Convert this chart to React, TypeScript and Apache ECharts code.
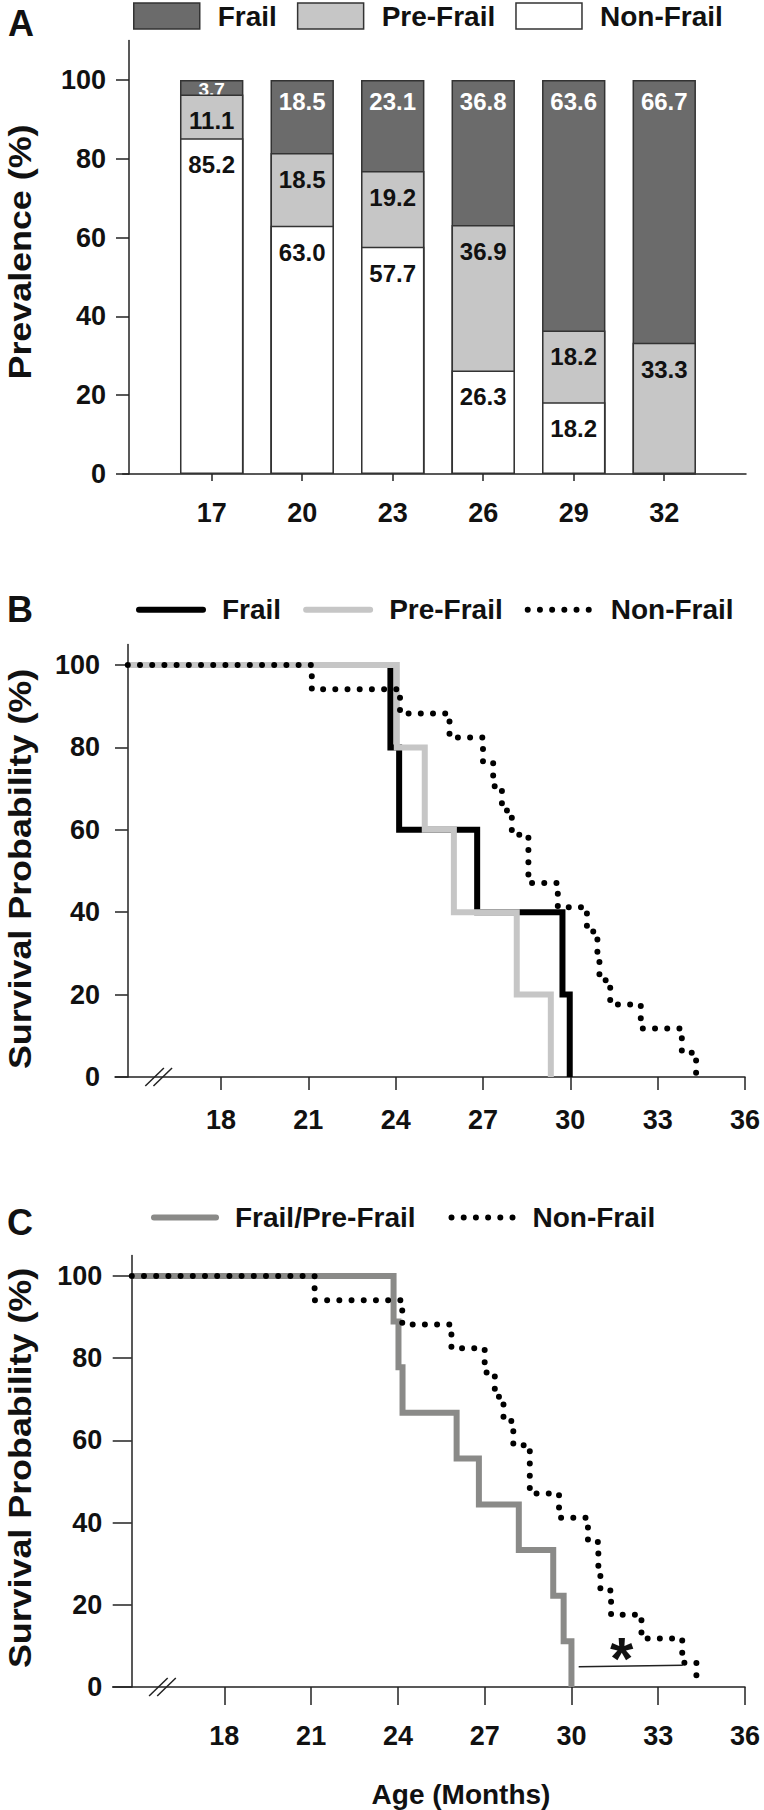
import React, { useEffect, useRef } from "react";
import * as echarts from "echarts";

const FONT = '"Liberation Sans", Arial, Helvetica, sans-serif';
const INK = "#111111";

// ---------- Panel A: prevalence of frailty by age ----------
const ageGroups = [17, 20, 23, 26, 29, 32];
const nonFrailPrev = [85.2, 63.0, 57.7, 26.3, 18.2, 0];
const preFrailPrev = [11.1, 18.5, 19.2, 36.9, 18.2, 33.3];
const frailPrev = [3.7, 18.5, 23.1, 36.8, 63.6, 66.7];
const prevalenceTicks = [0, 20, 40, 60, 80, 100];

// ---------- Panel B: survival by group ----------
const frailAge = [14.8, 23.82, 24.12, 26.8, 29.73, 29.98];
const frailSurv = [100, 80, 60, 40, 20, 0];
const preFrailAge = [14.8, 24.04, 25.0, 26.0, 28.16, 29.33];
const preFrailSurv = [100, 80, 60, 40, 20, 0];
const nonFrailAge = [14.8, 21.12, 24.15, 25.85, 27.0, 27.35, 27.65, 27.99, 28.56, 29.57, 30.57, 30.93, 31.0, 31.37, 32.42, 33.83, 34.32];
const nonFrailSurv = [100, 94.1, 88.2, 82.4, 76.5, 70.6, 64.7, 58.8, 47.1, 41.2, 35.3, 29.4, 23.5, 17.6, 11.8, 5.9, 0];

// ---------- Panel C: combined frail / pre-frail ----------
const combinedAge = [14.8, 23.85, 24.02, 24.16, 26.03, 26.8, 28.18, 29.37, 29.73, 30.0];
const combinedSurv = [100, 88.9, 77.8, 66.7, 55.6, 44.4, 33.3, 22.2, 11.1, 0];

const ageTicks = [18, 21, 24, 27, 30, 33, 36];
const survivalTicks = [0, 20, 40, 60, 80, 100];
const axisBreakAges = [15.72, 16.0];
const sigBracket = [
  [30.25, 4.9],
  [33.85, 5.3],
];
const sigStar = [31.74, 8.2];

const stripPrefix = (n: string) => n.replace(/^[ABC]-/, "");

const tickText = { color: INK, fontFamily: FONT, fontWeight: "bold", fontSize: 27 };
const axisLine = { show: true, onZero: false, lineStyle: { color: "#222", width: 1.5 } };
const tickLine = { color: "#222", width: 1.5 };

function xAxisDef(grid: number, min: number, max: number, ticks: number[], len: number, margin: number) {
  return {
    gridIndex: grid,
    type: "value",
    min,
    max,
    axisLine,
    splitLine: { show: false },
    axisTick: { show: true, customValues: ticks, length: len, lineStyle: tickLine },
    axisLabel: { ...tickText, customValues: ticks, margin, formatter: (v: number) => String(v) },
  };
}

function yAxisDef(grid: number, max: number, offset: number, len: number, margin: number, ticks: number[]) {
  return {
    gridIndex: grid,
    type: "value",
    min: 0,
    max,
    offset,
    axisLine,
    splitLine: { show: false },
    axisTick: { show: true, customValues: ticks, length: len, lineStyle: tickLine },
    axisLabel: { ...tickText, customValues: ticks, margin, formatter: (v: number) => String(v) },
  };
}

// Stacked bars drawn as overlapping cumulative bars (tallest behind).
function barSeries(name: string, segment: number[], below: number[][], fill: string, labelColor: string, dist: number, z: number) {
  return {
    name,
    type: "bar",
    xAxisIndex: 0,
    yAxisIndex: 0,
    barWidth: 63.4,
    barGap: "-100%",
    z,
    emphasis: { disabled: true },
    itemStyle: { color: fill, borderColor: "#333", borderWidth: 1.5 },
    label: {
      show: true,
      position: "insideTop",
      distance: dist,
      color: labelColor,
      fontFamily: FONT,
      fontWeight: "bold",
      fontSize: 24,
      textBorderWidth: 0,
      formatter: (p: any) => segment[p.dataIndex].toFixed(1),
    },
    data: ageGroups.map((a, i) => {
      const v = segment[i];
      const top = below.reduce((s, arr) => s + arr[i], 0) + v;
      const item: any = { value: [a, top] };
      if (v === 0) item.label = { show: false };
      else if (v < 5) item.label = { fontSize: 19, distance: 0 };
      return item;
    }),
  };
}

function kmSeries(name: string, grid: number, ages: number[], surv: number[], lineStyle: any, z: number, extra: any = {}) {
  return {
    name,
    type: "line",
    xAxisIndex: grid,
    yAxisIndex: grid,
    step: "end",
    symbol: "none",
    showSymbol: false,
    clip: false,
    z,
    emphasis: { disabled: true },
    itemStyle: { color: lineStyle.color },
    lineStyle,
    data: ages.map((a, i) => [a, surv[i]]),
    ...extra,
  };
}

const solid = (color: string) => ({ color, width: 6, join: "miter", cap: "butt" });
const dotted = { color: "#000", width: 6, type: [0, 12.2], cap: "round" };

function legendText(pad: number) {
  return { color: INK, fontFamily: FONT, fontWeight: "bold", fontSize: 28, padding: [0, 0, 0, pad] };
}

function buildOption() {
  return {
    animation: false,
    backgroundColor: "#ffffff",
    grid: [
      { left: 122.7, top: 40.6, width: 623.3, height: 433.4, outerBoundsMode: "none" },
      { left: 115, top: 644.4, width: 630, height: 432.6, outerBoundsMode: "none" },
      { left: 112.7, top: 1255.4, width: 632.3, height: 431.6, outerBoundsMode: "none" },
    ],
    xAxis: [
      xAxisDef(0, 14.05, 34.71, ageGroups, 7, 25.2),
      xAxisDef(1, 14.36, 36, ageTicks, 13, 29.5),
      xAxisDef(2, 14.14, 36, ageTicks, 18, 35.5),
    ],
    yAxis: [
      yAxisDef(0, 110, -6.3, 13, 23, prevalenceTicks),
      yAxisDef(1, 105, -12.7, 12.7, 27.7, survivalTicks),
      yAxisDef(2, 105, -19, 19, 29.3, survivalTicks),
    ],
    legend: [
      {
        left: 133,
        top: 2,
        padding: 0,
        orient: "horizontal",
        selectedMode: false,
        icon: "rect",
        itemWidth: 66,
        itemHeight: 26,
        itemGap: 20,
        itemStyle: { borderColor: "#333", borderWidth: 1.5 },
        textStyle: legendText(13),
        formatter: stripPrefix,
        data: ["A-Frail", "A-Pre-Frail", "A-Non-Frail"],
      },
      {
        left: 136,
        top: 595.7,
        padding: 0,
        orient: "horizontal",
        selectedMode: false,
        itemWidth: 64,
        itemHeight: 30,
        itemGap: 22,
        itemStyle: { color: "rgba(0,0,0,0)", borderWidth: 0, opacity: 0 },
        lineStyle: { width: 6, cap: "round" },
        textStyle: legendText(14),
        formatter: stripPrefix,
        data: [
          { name: "B-Frail" },
          { name: "B-Pre-Frail" },
          { name: "B-Non-Frail", lineStyle: { width: 6, type: [0, 12.2], cap: "round" } },
        ],
      },
      {
        left: 151,
        top: 1203.5,
        padding: 0,
        orient: "horizontal",
        selectedMode: false,
        itemWidth: 62,
        itemHeight: 30,
        itemGap: 33,
        itemStyle: { color: "rgba(0,0,0,0)", borderWidth: 0, opacity: 0 },
        lineStyle: { width: 6, cap: "round" },
        textStyle: legendText(14),
        formatter: stripPrefix,
        data: [
          { name: "C-Frail/Pre-Frail" },
          { name: "C-Non-Frail", lineStyle: { width: 6, type: [0, 12.2], cap: "round" } },
        ],
      },
    ],
    series: [
      barSeries("A-Frail", frailPrev, [nonFrailPrev, preFrailPrev], "#6b6b6b", "#ffffff", 9.3, 2),
      barSeries("A-Pre-Frail", preFrailPrev, [nonFrailPrev], "#c6c6c6", INK, 14.4, 3),
      barSeries("A-Non-Frail", nonFrailPrev, [], "#ffffff", INK, 14.4, 4),

      kmSeries("B-Frail", 1, frailAge, frailSurv, solid("#000000"), 2),
      kmSeries("B-Pre-Frail", 1, preFrailAge, preFrailSurv, solid("#c6c6c6"), 3),
      kmSeries("B-Non-Frail", 1, nonFrailAge, nonFrailSurv, dotted, 4),

      kmSeries("C-Frail/Pre-Frail", 2, combinedAge, combinedSurv, solid("#8a8a88"), 2),
      kmSeries("C-Non-Frail", 2, nonFrailAge, nonFrailSurv, dotted, 4, {
        markLine: {
          silent: true,
          symbol: ["none", "none"],
          label: { show: false },
          lineStyle: { type: "solid", color: "#222", width: 1.5 },
          data: [[{ coord: sigBracket[0] }, { coord: sigBracket[1] }]],
        },
      }),
    ],
  };
}

function textEl(text: string, x: number, y: number, size: number, extra: any = {}) {
  return {
    type: "text",
    x,
    y,
    silent: true,
    ...extra,
    style: {
      text,
      font: `bold ${size}px ${FONT}`,
      fill: INK,
      align: "center",
      verticalAlign: "middle",
    },
  };
}

function buildGraphics(chart: any) {
  const els: any[] = [];
  // panel letters
  els.push(textEl("A", 21, 23.5, 36));
  els.push(textEl("B", 20, 609, 36));
  els.push(textEl("C", 20, 1222.6, 36));
  // rotated axis names
  const rot = { rotation: Math.PI / 2, scaleX: 1.12 };
  els.push(textEl("Prevalence (%)", 20, 252, 32, rot));
  els.push(textEl("Survival Probability (%)", 20, 869, 32, rot));
  els.push(textEl("Survival Probability (%)", 20, 1468, 32, rot));
  // x-axis title
  els.push(textEl("Age (Months)", 461, 1794, 28));
  // axis breaks
  [1, 2].forEach((g) => {
    axisBreakAges.forEach((a) => {
      const p = chart.convertToPixel({ gridIndex: g }, [a, 0]);
      els.push({
        type: "line",
        silent: true,
        shape: { x1: p[0] - 9.3, y1: p[1] + 9, x2: p[0] + 9.3, y2: p[1] - 9 },
        style: { stroke: "#222", lineWidth: 1.5 },
      });
    });
  });
  // significance star
  const s = chart.convertToPixel({ gridIndex: 2 }, sigStar);
  els.push(textEl("*", s[0], s[1] + 5, 60));
  return els;
}

export default function App() {
  const ref = useRef<HTMLDivElement>(null);
  useEffect(() => {
    if (!ref.current) return;
    const chart = echarts.init(ref.current, null, { renderer: "svg" });
    chart.setOption(buildOption() as any);
    chart.setOption({ graphic: { elements: buildGraphics(chart) } } as any);
    return () => chart.dispose();
  }, []);
  return (
    <div
      ref={ref}
      style={{ position: "absolute", left: 0, top: 0, width: 764, height: 1810, background: "#fff" }}
    />
  );
}
